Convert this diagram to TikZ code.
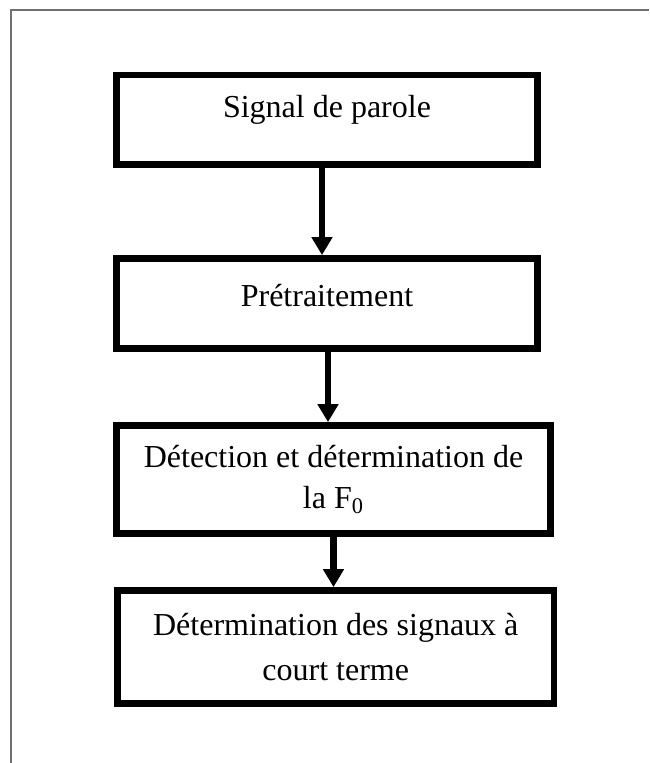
\documentclass[tikz,border=0pt]{standalone}
\usepackage{fontspec}
\setmainfont{Liberation Serif}
\usepackage{tikz}
\usetikzlibrary{arrows.meta}
\definecolor{framegray}{HTML}{707070}

\begin{document}
\begin{tikzpicture}[x=0.5pt,y=-0.5pt,
  stage/.style={rectangle,draw=black,line width=3.35pt,fill=white,align=center,
    font=\fontsize{16}{20.5}\selectfont,inner sep=0pt},
  flow/.style={-{Triangle[length=9pt,width=10pt]},line width=3.3pt,black}]
\useasboundingbox (0,0) rectangle (649,763);
% page frame (top and left edges only)
\draw[framegray,line width=0.6pt] (11,763) -- (11,10) -- (649,10);
\node[stage,minimum width=210.5pt,minimum height=44.75pt,text height=11pt,text depth=13.5pt] (b1) at (327,119.75) {Signal de parole};
\node[stage,minimum width=210.5pt,minimum height=45pt,text height=11.5pt,text depth=8pt] (b2) at (327,303.5) {Prétraitement};
\node[stage,minimum width=217pt,minimum height=54pt] (b3) at (333.5,479.5) {Détection et détermination de\\la F\textsubscript{0}};
\node[stage,minimum width=218.25pt,minimum height=56.5pt] (b4) at (335.75,647) {Détermination des signaux à\\[2pt]court terme};
\draw[flow] ([xshift=-2.5pt]b1.south) -- ([xshift=-2.5pt]b2.north);
\draw[flow] ([xshift=0.5pt]b2.south) -- ([xshift=0.5pt]b2.south |- b3.north);
\draw[flow] (b3.south) -- (b3.south |- b4.north);
\end{tikzpicture}
\end{document}
